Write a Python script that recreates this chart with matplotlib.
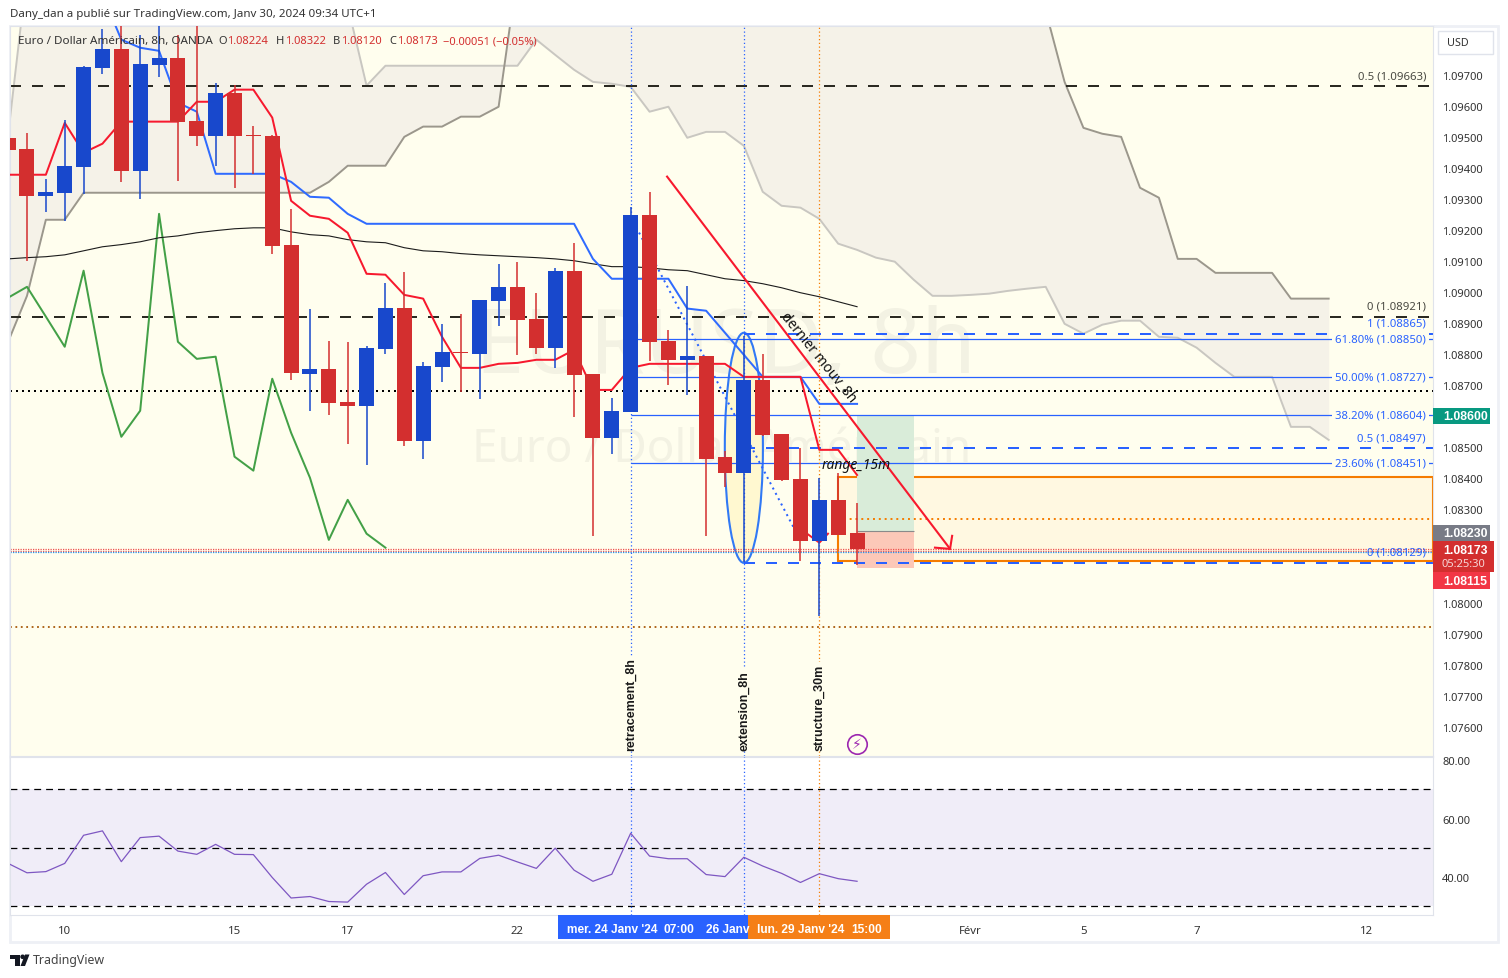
# -*- coding: utf-8 -*-
import numpy as np
import matplotlib
matplotlib.use('Agg')
import matplotlib.pyplot as plt
from matplotlib.patches import Ellipse, Rectangle, Polygon, Circle
from matplotlib.transforms import Affine2D

plt.rcParams['font.family'] = ['Noto Sans', 'DejaVu Sans']

W, H = 1508, 979

# bars, first one is cut by the left edge
bars = np.arange(-1, 45)
opens = [1.09497, 1.09462, 1.09310, 1.09320, 1.09403, 1.09723, 1.09784, 1.09391, 1.09732, 1.09755, 1.09552,
         1.09504, 1.09642, 1.09507, 1.09504, 1.09153, 1.08735, 1.08751, 1.08645, 1.08632, 1.08816, 1.08948,
         1.08519, 1.08758, 1.08806, 1.08800, 1.08971, 1.09016, 1.08913, 1.08819, 1.09068, 1.08735, 1.08529,
         1.08613, 1.09249, 1.08841, 1.08781, 1.08793, 1.08468, 1.08419, 1.08716, 1.08542, 1.08397, 1.08200,
         1.08332, 1.08224]
highs = [1.09523, 1.09513, 1.09365, 1.09555, 1.09729, 1.09848, 1.09900, 1.09829, 1.09858, 1.09829, 1.09900,
         1.09674, 1.09668, 1.09536, 1.09507, 1.09268, 1.08947, 1.08844, 1.08838, 1.08826, 1.09029, 1.09064,
         1.08774, 1.08897, 1.08929, 1.08974, 1.09090, 1.09097, 1.08997, 1.09077, 1.09158, 1.08735, 1.08658,
         1.09275, 1.09323, 1.08877, 1.09020, 1.08793, 1.08487, 1.08858, 1.08800, 1.08542, 1.08497, 1.08400,
         1.08419, 1.08322]
lows = [1.09458, 1.09100, 1.09259, 1.09229, 1.09316, 1.09703, 1.09355, 1.09300, 1.09694, 1.09359, 1.09471,
        1.09406, 1.09336, 1.09381, 1.09123, 1.08716, 1.08616, 1.08603, 1.08510, 1.08442, 1.08800, 1.08503,
        1.08464, 1.08710, 1.08677, 1.08655, 1.08891, 1.08797, 1.08800, 1.08755, 1.08597, 1.08214, 1.08477,
        1.08613, 1.08777, 1.08700, 1.08668, 1.08214, 1.08371, 1.08132, 1.08535, 1.08391, 1.08135, 1.07957,
        1.08219, 1.08120]
closes = [1.09458, 1.09310, 1.09323, 1.09406, 1.09726, 1.09784, 1.09391, 1.09735, 1.09755, 1.09549, 1.09504,
          1.09642, 1.09504, 1.09504, 1.09149, 1.08738, 1.08751, 1.08642, 1.08632, 1.08819, 1.08948, 1.08519,
          1.08761, 1.08806, 1.08803, 1.08974, 1.09016, 1.08910, 1.08819, 1.09068, 1.08732, 1.08529, 1.08616,
          1.09249, 1.08838, 1.08781, 1.08793, 1.08464, 1.08419, 1.08716, 1.08539, 1.08394, 1.08200, 1.08332,
          1.08219, 1.08173]

blue_bars = np.arange(4, 45)
blue_line = [1.09958, 1.09813, 1.09787, 1.09777, 1.09610, 1.09581, 1.09381, 1.09381, 1.09381, 1.09381, 1.09355,
             1.09307, 1.09304, 1.09252, 1.09220, 1.09220, 1.09220, 1.09220, 1.09220, 1.09220, 1.09220, 1.09220,
             1.09220, 1.09220, 1.09220, 1.09220, 1.09107, 1.09043, 1.09043, 1.09043, 1.09043, 1.08947, 1.08940,
             1.08869, 1.08798, 1.08727, 1.08727, 1.08727, 1.08640, 1.08640, 1.08640]
red_line = [1.09378, 1.09378, 1.09378, 1.09545, 1.09449, 1.09478, 1.09549, 1.09549, 1.09549, 1.09549, 1.09613,
            1.09613, 1.09652, 1.09652, 1.09562, 1.09294, 1.09246, 1.09236, 1.09191, 1.09059, 1.09056, 1.08991,
            1.08979, 1.08856, 1.08756, 1.08756, 1.08769, 1.08772, 1.08782, 1.08782, 1.08814, 1.08685, 1.08685,
            1.08756, 1.08769, 1.08769, 1.08769, 1.08769, 1.08769, 1.08727, 1.08727, 1.08727, 1.08727, 1.08492,
            1.08492, 1.08411]
ma_line = [1.09107, 1.09111, 1.09114, 1.09120, 1.09133, 1.09146, 1.09153, 1.09162, 1.09175, 1.09181, 1.09191,
           1.09198, 1.09204, 1.09207, 1.09207, 1.09194, 1.09185, 1.09181, 1.09169, 1.09162, 1.09159, 1.09143,
           1.09133, 1.09130, 1.09124, 1.09120, 1.09117, 1.09114, 1.09111, 1.09107, 1.09101, 1.09091, 1.09082,
           1.09082, 1.09078, 1.09072, 1.09069, 1.09056, 1.09043, 1.09037, 1.09027, 1.09014, 1.08998, 1.08985,
           1.08969, 1.08953]
lag_bars = np.arange(-1, 20)
lag_line = [1.08982, 1.09017, 1.08921, 1.08824, 1.09069, 1.08740, 1.08534, 1.08618, 1.09252, 1.08840, 1.08785,
            1.08792, 1.08470, 1.08425, 1.08721, 1.08547, 1.08402, 1.08202, 1.08331, 1.08222, 1.08177]

# cloud, 1.1003 = somewhere above the visible top
cloud_bars = np.arange(-1, 70)
span_dark = [1.08840, 1.08988, 1.09233, 1.09233, 1.09320, 1.09320, 1.09320, 1.09320, 1.09320, 1.09320, 1.09320,
             1.09320, 1.09320, 1.09320, 1.09320, 1.09320, 1.09320, 1.09355, 1.09407, 1.09407, 1.09407, 1.09500,
             1.09533, 1.09533, 1.09565, 1.09565, 1.09597, 1.1003, 1.1003, 1.1003, 1.1003, 1.1003, 1.1003,
             1.1003, 1.1003, 1.1003, 1.1003, 1.1003, 1.1003, 1.1003, 1.1003, 1.1003, 1.1003, 1.1003, 1.1003,
             1.1003, 1.1003, 1.1003, 1.1003, 1.1003, 1.1003, 1.1003, 1.1003, 1.1003, 1.1003, 1.09906, 1.09677,
             1.09529, 1.09510, 1.09500, 1.09336, 1.09304, 1.09107, 1.09107, 1.09062, 1.09062, 1.09062, 1.09062,
             1.08979, 1.08979, 1.08979]
span_light = [1.09507, 1.1003, 1.1003, 1.1003, 1.1003, 1.1003, 1.1003, 1.1003, 1.1003, 1.1003, 1.1003, 1.1003,
              1.1003, 1.1003, 1.1003, 1.1003, 1.1003, 1.1003, 1.09922, 1.09665, 1.09729, 1.09729, 1.09729,
              1.09729, 1.09729, 1.09729, 1.09729, 1.09729, 1.09813, 1.09764, 1.09716, 1.09677, 1.09671, 1.09661,
              1.09581, 1.09597, 1.09497, 1.09516, 1.09516, 1.09471, 1.09323, 1.09278, 1.09272, 1.09236, 1.09156,
              1.09136, 1.09111, 1.09098, 1.09040, 1.08988, 1.08988, 1.08991, 1.08995, 1.09004, 1.09011, 1.09017,
              1.08898, 1.08866, 1.08895, 1.08908, 1.08908, 1.08856, 1.08853, 1.08821, 1.08772, 1.08727, 1.08727,
              1.08727, 1.08566, 1.08566, 1.08524]

rsi = [44.7, 41.5, 41.9, 44.7, 54.3, 55.8, 45.3, 53.5, 54.0, 48.9, 47.8, 51.2, 47.8, 47.7, 39.9, 32.9, 33.4, 31.7,
       31.5, 37.6, 41.6, 34.1, 40.5, 41.8, 41.8, 46.4, 47.5, 45.2, 43.0, 49.9, 42.4, 38.6, 41.0, 55.0, 47.2, 46.3,
       46.3, 40.9, 40.2, 46.8, 43.8, 41.3, 38.2, 41.2, 39.5, 38.6]

price_ticks = [1.0760, 1.0770, 1.0780, 1.0790, 1.0800, 1.0830, 1.0840, 1.0850, 1.0870, 1.0880, 1.0890, 1.0900,
               1.0910, 1.0920, 1.0930, 1.0940, 1.0950, 1.0960, 1.0970]
time_ticks = [2, 11, 17, 26, 50, 56, 62, 71]
time_labels = ['10', '15', '17', '22', 'Févr', '5', '7', '12']
rsi_ticks = [40, 60, 80]

fib_levels = [1.08850, 1.08727, 1.08604, 1.08451]
fib_names = ['61.80% (1.08850)', '50.00% (1.08727)', '38.20% (1.08604)', '23.60% (1.08451)']
ext_levels = [1.08865, 1.08497, 1.08129]
ext_names = ['1 (1.08865)', '0.5 (1.08497)', '0 (1.08129)']
black_levels = [1.09663, 1.08921]
black_names = ['0.5 (1.09663)', '0 (1.08921)']
dotted_level = 1.08682
last_levels = [1.08174, 1.08167]
last_blue = 1.08162
low_dotted = 1.07922

trend_x = [32, 41]
trend_y = [1.09243, 1.08200]
arrow_x = [33.93, 48.93]
arrow_y = [1.09372, 1.08173]
barb_x = [48.13, 48.93, 49.04]
barb_y = [1.08177, 1.08173, 1.08215]
chevron_x = [41.35, 42, 42.46]
chevron_y = [1.08222, 1.08193, 1.08222]

RED = '#d32f2f'
BLUE = '#1848cc'
LINE_BLUE = '#2962ff'
CREAM = '#fffeee'
GRID = '#e0e3eb'
DASH = (0, (5.5, 5.5))
DOT = (0, (1, 2))
BOLD = ['Liberation Sans', 'DejaVu Sans']

fig = plt.figure(figsize=(W / 100, H / 100), dpi=100, facecolor='white')
pix = Affine2D().scale(1, -1).translate(0, H)  # pixel coords, top left origin


def box(l, t, r, b):
    return [l / W, 1 - b / H, (r - l) / W, (b - t) / H]


def ptext(x, y, s, **kw):
    kw.setdefault('fontsize', 8)
    kw.setdefault('va', 'center')
    kw.setdefault('color', '#333333')
    return fig.text(x, y, s, transform=pix, **kw)


fig.add_artist(Rectangle((10, 27), 1488, 916, transform=pix, fc='white', ec='#eef0f5', lw=2))

ax = fig.add_axes(box(10, 27, 1433, 757), facecolor=CREAM, zorder=2)
rs = fig.add_axes(box(10, 758, 1433, 916), facecolor='white', zorder=2)
x0, x1 = -0.901, 74.53
ax.set_xlim(x0, x1)
rs.set_xlim(x0, x1)
ax.set_ylim(1.07506, 1.09857)
rs.set_ylim(27.1, 81)

# watermark
ax.text(0.5025, 0.557, 'EURUSD, 8h', transform=ax.transAxes,
        fontsize=64, color='#f3f2e3', ha='center', va='center', zorder=0.5)
ax.text(0.5, 0.42, 'Euro / Dollar Américain', transform=ax.transAxes,
        fontsize=33, color='#f3f2e3', ha='center', va='center', zorder=0.5)

# cloud
ax.fill_between(cloud_bars, span_dark, span_light, color='#f5f2e8', lw=0, zorder=1)
ax.plot(cloud_bars, span_light, color='#c9c7c1', lw=1.4, zorder=2)
ax.plot(cloud_bars, span_dark, color='#9b978c', lw=1.4, zorder=2)

# rectangle and position tool
ax.axhspan(1.08135, 1.08405, xmin=(43 - x0) / (x1 - x0), fc='#fff8e1', ec='#f57c00', lw=1.5, zorder=1.5)
ax.hlines(1.08270, 43, x1, color='#f57c00', lw=1.4, ls=DOT, zorder=2)
ax.add_patch(Rectangle((44, 1.08230), 3, 1.08600 - 1.08230, fc='#d9ecd9', ec='none', zorder=1.6))
ax.add_patch(Rectangle((44, 1.08110), 3, 1.08230 - 1.08110, fc='#fcc8b8', ec='none', zorder=1.6))
ax.hlines(1.08230, 44, 47, color='#8a8a8a', lw=0.8, zorder=1.7)
ax.add_patch(Ellipse((38, 1.084985), 2.02, 0.00741, fc='#fff8d0', ec='#3179f5', lw=1.5, zorder=2))

# levels
for lv in black_levels:
    ax.axhline(lv, color='#2b2a22', lw=1.44, ls=DASH, zorder=2.5)
ax.axhline(dotted_level, color='black', lw=1.44, ls=DOT, zorder=2.5)
for lv in ext_levels:
    ax.hlines(lv, 38, x1, color=LINE_BLUE, lw=1.44, ls=DASH, zorder=2.5)
for lv in fib_levels:
    ax.hlines(lv, 32, x1, color=LINE_BLUE, lw=0.9, zorder=2.5)
for lv in last_levels:
    ax.axhline(lv, color='#ef5350', lw=0.9, ls=(0, (1, 1)), zorder=2.5)
ax.axhline(last_blue, color='#2196f3', lw=0.9, ls=(0, (1, 1)), zorder=2.5)
ax.axhline(low_dotted, color='#a85a0a', lw=1.3, ls=DOT, zorder=2.5)
ax.plot(trend_x, trend_y, color=LINE_BLUE, lw=1.44, ls=DOT, zorder=2.6)

# verticals
for a in (ax, rs):
    a.axvline(32, color=LINE_BLUE, lw=0.9, ls=DOT, zorder=2.6)
    a.axvline(38, color=LINE_BLUE, lw=0.9, ls=DOT, zorder=2.6)
    a.axvline(42, color='#f57c00', lw=0.9, ls=DOT, zorder=2.6)

# indicators
ax.plot(lag_bars, lag_line, color='#43a047', lw=1.44, zorder=3)
ax.plot(bars, ma_line, color='#1c1c1c', lw=0.8, zorder=3)
ax.plot(blue_bars, blue_line, color='#2f6bff', lw=1.44, zorder=3)
ax.plot(bars, red_line, color='#f7192e', lw=1.44, zorder=3)
ax.plot(chevron_x, chevron_y, color='#f7192e', lw=1.4, zorder=3)

# candles
o, h, l, c = map(np.array, (opens, highs, lows, closes))
colors = [BLUE if cc > oo else RED for oo, cc in zip(o, c)]
ax.vlines(bars, l, h, colors=colors, lw=1.1, zorder=4)
ax.bar(bars, np.abs(c - o), bottom=np.minimum(o, c), width=0.795, color=colors, lw=0, zorder=4.1)

# big red arrow
ax.plot(arrow_x, arrow_y, color='#f7192e', lw=1.5, zorder=5)
ax.plot(barb_x, barb_y, color='#f7192e', lw=1.5, zorder=5)

# labels on levels
lab_x = 74.16
for lv, name in zip(black_levels, black_names):
    ax.annotate(name, (lab_x, lv), xytext=(0, 7.4), textcoords='offset points', ha='right', va='center',
                fontsize=8.2, color='#4a4a42', zorder=5)
for lv, name in zip(fib_levels, fib_names):
    ax.annotate(name, (lab_x, lv), ha='right', va='center', fontsize=8.2, color=LINE_BLUE, zorder=5,
                bbox=dict(fc=CREAM, ec='none', pad=2.2))
for lv, name in zip(ext_levels, ext_names):
    ax.annotate(name, (lab_x, lv), xytext=(0, 7.6), textcoords='offset points', ha='right', va='center',
                fontsize=8.2, color=LINE_BLUE, zorder=5.2)

ax.text(41.93, 1.08792, 'dernier mouv_8h', rotation=-51, rotation_mode='anchor', ha='center', va='center',
        fontsize=10, color='#111111', zorder=5)
ax.text(43.95, 1.08444, 'range_15m', style='italic', ha='center', va='center', fontsize=10, color='#111111', zorder=5)
for xv, name in zip([32, 38, 42], ['retracement_8h', 'extension_8h', 'structure_30m']):
    ax.text(xv, 1.07525, name, rotation=90, ha='center', va='bottom', fontsize=9, weight='bold', color='#1a1a1a',
            family=BOLD, zorder=5, bbox=dict(fc=CREAM, ec='none', pad=1))

# bolt
ax.plot([44], [1.07545], marker='o', ms=14, mfc=CREAM, mec='#9c27b0', mew=1.2, zorder=5)
ax.text(44, 1.07545, '⚡', ha='center', va='center', fontsize=10, color='#9c27b0', zorder=5.1,
        family=['DejaVu Sans'])

# rsi
rs.axhspan(30, 70, color='#f0edf8', lw=0, zorder=0.5)
for lv in (30, 50, 70):
    rs.axhline(lv, color='black', lw=0.9, ls=(0, (5.5, 4)), zorder=1)
rs.plot(bars, rsi, color='#7e57c2', lw=0.9, zorder=3)

# axes
for a in (ax, rs):
    for k in a.spines:
        a.spines[k].set_color(GRID)
        a.spines[k].set_linewidth(0.8)
    a.yaxis.tick_right()
    a.tick_params(axis='y', length=0, pad=6.5, labelsize=8, labelcolor='#333333')
ax.set_xticks([])
ax.set_yticks(price_ticks)
ax.set_yticklabels(['%.5f' % t for t in price_ticks])
rs.set_yticks(rsi_ticks)
rs.set_yticklabels(['%.2f' % t for t in rsi_ticks])
rs.set_xticks(time_ticks)
rs.set_xticklabels(time_labels)
rs.tick_params(axis='x', length=0, pad=7.5, labelsize=8.2, labelcolor='#333333')

# price tags
tagx = ax.get_yaxis_transform()


def tag(price, text, color, right=1490, hgt=16):
    r = (right - 10) / 1423
    d = hgt / 31050
    ax.add_patch(Rectangle((1, price - d / 2), r - 1, d, transform=tagx, fc=color, ec='none', clip_on=False, zorder=6))
    ax.text((1443 - 10) / 1423, price, text, transform=tagx, color='white', fontsize=8.8, weight='bold',
            family=BOLD, va='center', zorder=7, clip_on=False)


# the two lower tags are pushed apart as they are in the terminal
tag(1.08600, '1.08600', '#089981')
tag(1.08224, '1.08230', '#787b86')
tag(1.08070, '1.08115', '#f23645', hgt=17)
fig.add_artist(Rectangle((1433, 542), 61, 31, transform=pix, fc='#d32f2f', ec='none', zorder=8))
ptext(1443, 551, '1.08173', color='white', weight='bold', family=BOLD, fontsize=8.8, zorder=9)
ptext(1442, 565, '05:25:30', color='#f6d5d5', zorder=9)

fig.add_artist(Rectangle((1438, 32), 55, 23, transform=pix, fc='white', ec=GRID, lw=1, zorder=8))
ptext(1447, 44, 'USD', fontsize=7.8, zorder=9)

# time box
fig.add_artist(Rectangle((558, 916), 190, 24, transform=pix, fc='#2962ff', ec='none', zorder=8))
fig.add_artist(Rectangle((748, 916), 142, 24, transform=pix, fc='#f57f17', ec='none', zorder=8))
for xp, s in zip([567, 664, 706, 757, 851], ["mer. 24 Janv '24", '07:00', '26 Janv', "lun. 29 Janv '24", '15:00']):
    ptext(xp, 930, s, color='white', weight='bold', family=BOLD, fontsize=8.6, zorder=9)

# legend
ptext(18, 42, 'Euro / Dollar Américain, 8h, OANDA', fontsize=8.4, zorder=9)
for xp, s, col in [(218, 'O', '#333333'), (227, '1.08224', RED), (276, 'H', '#333333'), (285, '1.08322', RED),
                   (333, 'B', '#333333'), (341, '1.08120', RED), (389, 'C', '#333333'), (397, '1.08173', RED),
                   (443, '−0.00051 (−0.05%)', RED)]:
    ptext(xp, 42, s, color=col, fontsize=8, zorder=9)

ptext(10, 15, 'Dany_dan a publié sur TradingView.com, Janv 30, 2024 09:34 UTC+1', fontsize=8.3)

# logo
fig.add_artist(Polygon([(10, 955.5), (20, 955.5), (20, 967), (15, 967), (15, 960), (10, 960)], transform=pix,
                       fc='#131722', ec='none'))
fig.add_artist(Polygon([(25, 955.5), (29.5, 955.5), (25, 967), (20.5, 967)], transform=pix, fc='#131722', ec='none'))
fig.add_artist(Circle((22.6, 957.8), 2.3, transform=pix, fc='#131722', ec='none'))
ptext(33, 961, 'TradingView', fontsize=8.9, color='#444444')

fig.savefig('out.png', dpi=100)
